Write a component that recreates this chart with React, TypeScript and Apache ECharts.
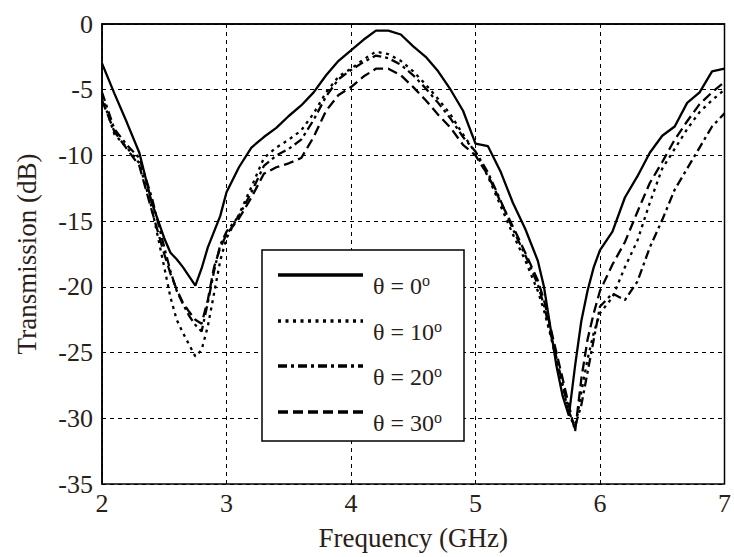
import React, { useEffect, useRef } from "react";
import * as echarts from "echarts";

const freq = [
  2.0, 2.1, 2.2, 2.3, 2.4, 2.5, 2.55, 2.6, 2.65, 2.7, 2.75, 2.8, 2.85, 2.9, 2.95,
  3.0, 3.1, 3.2, 3.3, 3.4, 3.5, 3.6, 3.7, 3.8, 3.9, 4.0, 4.1, 4.2, 4.3, 4.4, 4.5,
  4.6, 4.7, 4.8, 4.9, 5.0, 5.1, 5.2, 5.3, 5.4, 5.5, 5.55, 5.6, 5.65, 5.7, 5.75,
  5.8, 5.85, 5.9, 5.95, 6.0, 6.1, 6.2, 6.3, 6.4, 6.5, 6.6, 6.7, 6.8, 6.9, 7.0,
];

const theta0 = [
  -3.0, -5.3, -7.5, -9.8, -13.6, -16.3, -17.4, -17.9, -18.5, -19.2, -19.9, -18.6, -17.0, -15.8, -14.6,
  -12.8, -10.9, -9.4, -8.6, -7.9, -7.0, -6.2, -5.2, -3.9, -2.8, -2.0, -1.2, -0.5, -0.5, -0.8, -1.7,
  -2.5, -3.6, -5.0, -6.6, -9.1, -9.3, -11.2, -13.6, -15.6, -18.0, -20.0, -23.0, -26.0, -28.3, -29.8,
  -26.0, -22.6, -20.3, -18.5, -17.2, -15.8, -13.2, -11.6, -9.8, -8.5, -7.8, -6.0, -5.2, -3.6, -3.4,
];

const theta10 = [
  -5.5, -8.4, -9.4, -10.6, -14.0, -18.5, -20.8, -22.5, -23.5, -24.4, -25.3, -24.8, -23.0, -20.5, -18.0,
  -16.3, -14.5, -12.4, -10.2, -9.4, -8.8, -8.1, -6.8, -5.2, -4.0, -3.4, -2.7, -2.1, -2.3, -2.8, -3.6,
  -4.6, -5.7, -6.9, -8.4, -9.8, -11.6, -13.8, -16.0, -18.0, -20.3, -21.8, -23.6, -25.6, -27.6, -29.6,
  -30.8, -28.0, -25.5, -23.5, -22.0, -20.8, -18.5, -16.5, -13.6, -11.0, -9.5, -8.0, -6.7, -5.8, -5.0,
];

const theta20 = [
  -5.2, -8.0, -9.2, -10.2, -13.2, -17.0, -18.8, -20.3, -21.3, -22.2, -22.9, -23.4, -21.2, -18.8, -16.8,
  -15.8, -14.6, -12.8, -10.8, -10.0, -9.5, -8.8, -7.3, -5.5, -4.2, -3.5, -2.9, -2.4, -2.6, -3.1, -3.9,
  -4.9, -6.0, -7.2, -8.6, -9.7, -11.3, -13.4, -15.6, -17.6, -19.8, -21.4, -23.4, -25.4, -27.4, -29.5,
  -30.6, -29.0, -26.5, -24.0, -21.5, -20.5, -21.0, -19.6, -17.0, -14.9, -12.6, -11.0, -9.4, -7.8, -6.8,
];

const theta30 = [
  -5.8, -8.2, -9.5, -10.8, -14.2, -17.5, -19.0, -20.2, -21.2, -21.9, -22.5, -22.8, -21.0, -18.5, -17.0,
  -16.0, -14.8, -13.2, -11.4, -10.9, -10.6, -10.2, -8.6, -6.6, -5.4, -4.8, -4.0, -3.4, -3.4, -3.9, -4.8,
  -5.8, -6.9, -7.9, -9.2, -10.0, -11.5, -13.5, -15.4, -17.4, -19.5, -21.0, -23.0, -25.0, -27.0, -29.0,
  -31.0, -27.0, -24.0, -22.0, -20.3, -18.3, -16.6, -14.3, -12.1, -10.5, -8.8, -7.4, -6.1, -5.2, -4.4,
];

const seriesNames = ["θ = 0", "θ = 10", "θ = 20", "θ = 30"];
const seriesData = [theta0, theta10, theta20, theta30];
const dashStyles: any[] = ["solid", [3, 4.5], [9, 4, 3, 4], [10, 5]];

const FONT = "'Liberation Serif', 'Times New Roman', serif";
const TXT = "#2a2018";

export default function App() {
  const ref = useRef<HTMLDivElement>(null);
  useEffect(() => {
    if (!ref.current) return;
    const chart = echarts.init(ref.current, undefined, { renderer: "svg" });

    const legendTop = 250;
    const legendLeft = 262;
    const rowY = [275, 321, 366, 412];
    const legendEls: any[] = [
      {
        type: "rect",
        shape: { x: legendLeft, y: legendTop, width: 202, height: 191 },
        style: { fill: "#fff", stroke: "#000", lineWidth: 1.5 },
        z: 100,
      },
    ];
    seriesNames.forEach((name, i) => {
      legendEls.push({
        type: "line",
        shape: { x1: 278, y1: rowY[i], x2: 363, y2: rowY[i] },
        style: { stroke: "#000", lineWidth: 3.5, lineDash: dashStyles[i] === "solid" ? null : dashStyles[i] },
        z: 101,
      });
      legendEls.push({
        type: "text",
        x: 373,
        y: rowY[i] + 11,
        style: {
          text: `{m|${name}}{s|o}`,
          verticalAlign: "middle",
          fill: TXT,
          rich: {
            m: { fontSize: 24, fontFamily: FONT, fill: TXT, lineHeight: 28 },
            s: { fontSize: 16, fontFamily: FONT, fill: TXT, verticalAlign: "top", lineHeight: 14 },
          },
        },
        z: 101,
      });
    });

    chart.setOption({
      animation: false,
      backgroundColor: "#fff",
      grid: {
        left: 102,
        top: 24,
        right: 2,
        bottom: 73,
        show: true,
        borderColor: "#000",
        borderWidth: 1.5,
        backgroundColor: "transparent",
      },
      xAxis: {
        type: "value",
        min: 2,
        max: 7,
        interval: 1,
        name: "Frequency (GHz)",
        nameLocation: "middle",
        nameGap: 40,
        nameTextStyle: { fontSize: 27, fontFamily: FONT, color: TXT },
        axisLine: { show: true, lineStyle: { color: "#000", width: 1.5 } },
        axisTick: { show: false },
        axisLabel: { fontSize: 26, fontFamily: FONT, color: TXT, margin: 6 },
        splitLine: { show: true, lineStyle: { color: "#000", width: 1, type: [4, 4] } },
      },
      yAxis: {
        type: "value",
        min: -35,
        max: 0,
        interval: 5,
        name: "Transmission (dB)",
        nameLocation: "middle",
        nameGap: 62,
        nameTextStyle: { fontSize: 27, fontFamily: FONT, color: TXT },
        axisLine: { show: true, lineStyle: { color: "#000", width: 1.5 } },
        axisTick: { show: false },
        axisLabel: { fontSize: 26, fontFamily: FONT, color: TXT, margin: 9 },
        splitLine: { show: true, lineStyle: { color: "#000", width: 1, type: [4, 4] } },
      },
      series: seriesNames.map((name, i) => ({
        name,
        type: "line",
        showSymbol: false,
        symbol: "none",
        data: freq.map((f, j) => [f, seriesData[i][j]]),
        lineStyle: { color: "#000", width: 2.3, type: dashStyles[i] },
        z: 3,
      })),
      graphic: { elements: legendEls },
    });

    return () => chart.dispose();
  }, []);

  return (
    <div
      ref={ref}
      style={{ position: "fixed", left: 0, top: 0, width: 734, height: 557, background: "#fff" }}
    />
  );
}
